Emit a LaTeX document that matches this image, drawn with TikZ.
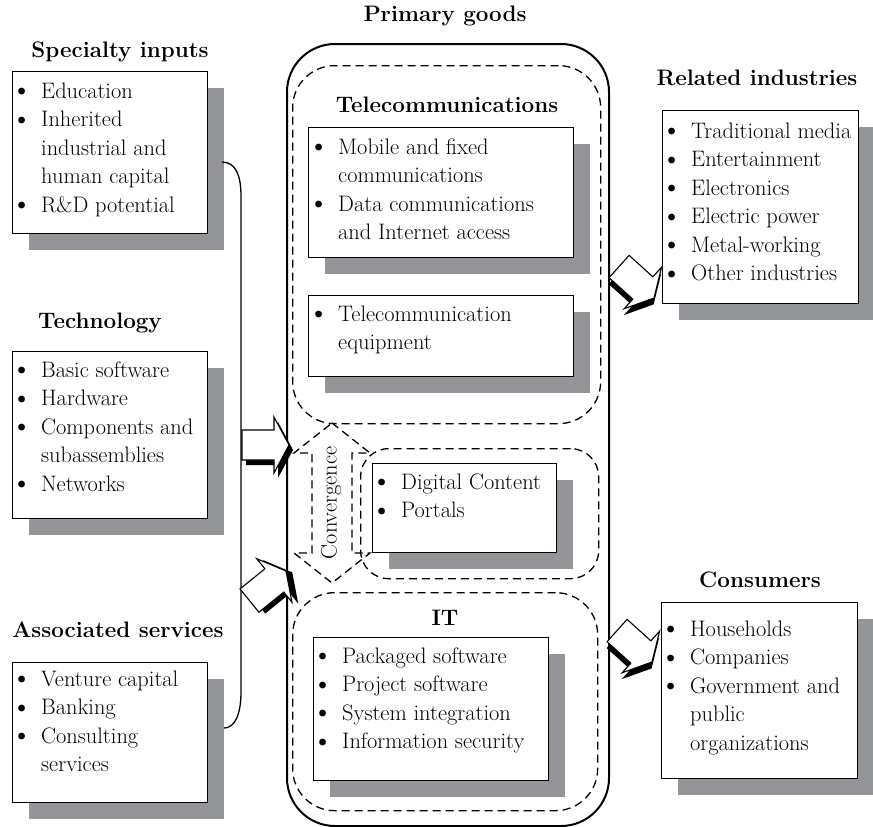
\documentclass[tikz,border=0pt]{standalone}
\usetikzlibrary{shadows}
\definecolor{shade}{RGB}{148,149,153}
\newcommand\bul{\makebox[9pt][c]{\raisebox{-1.9pt}{\fontsize{30}{30}\selectfont\textbullet}}}
\newcommand\blist[1]{\begin{tabular}[t]{@{}l@{\hspace{15pt}}l@{}}#1\end{tabular}}
\tikzset{
  box/.style={draw=black, fill=white, line width=1.3pt, inner sep=0pt, anchor=north west,
    drop shadow={shadow xshift=16pt, shadow yshift=-16pt, fill=shade, opacity=1}},
  region/.style={draw=black, dash pattern=on 8pt off 5pt, line width=1.3pt, inner sep=0pt, anchor=north west},
  head/.style={font=\bfseries, inner sep=0pt},
  list/.style={inner sep=0pt, anchor=base west},
  conv/.style={draw=black, dash pattern=on 8pt off 5pt, line width=1.3pt},
  blockarr/.pic={
    % black extrusion behind the arrow
    \fill[black] (-43,-10) -- (-11,-10) -- (-11,-23) -- (4,5) -- (-11,33) -- (-11,20) -- (-43,20) -- cycle;
    \filldraw[fill=white, draw=black, line width=1.1pt, line join=miter]
      (-47,-15) -- (-15,-15) -- (-15,-28) -- (0,0) -- (-15,28) -- (-15,15) -- (-47,15) -- cycle;
  }
}
\begin{document}
\fontsize{22.4}{28.5}\selectfont
\begin{tikzpicture}[x=1pt, y=-1pt]
\useasboundingbox (0,0) rectangle (873,827);

% ---------- left column ----------
\node[head] (spech) at (120,52) {Specialty inputs};
\node[box, minimum width=195pt, minimum height=162pt] (spec) at (12,71) {};
\node[list] (specl) at (17,98) {\blist{\bul & Education\\ \bul & Inherited\\ & industrial and\\ & human capital\\ \bul & R\&D potential}};

\node[head] (techh) at (100,323) {Technology};
\node[box, minimum width=195pt, minimum height=167pt] (tech) at (12,351) {};
\node[list] (techl) at (17,377) {\blist{\bul & Basic software\\ \bul & Hardware\\ \bul & Components and\\ & subassemblies\\ \bul & Networks}};

\node[head] (assh) at (118,630) {Associated services};
\node[box, minimum width=195pt, minimum height=140pt] (ass) at (12,662) {};
\node[list] (assl) at (17,686) {\blist{\bul & Venture capital\\ \bul & Banking\\ \bul & Consulting\\ & services}};

% bracket joining the input groups
\coordinate (bt) at (222,162);
\coordinate (bb) at (224,728);
\draw[line width=1.3pt] (bt) .. controls (236,162) and (241,176) .. (241,196) -- (241,692) .. controls (241,714) and (235,728) .. (bb);

% ---------- primary goods ----------
\node[head] (primh) at (445,16) {Primary goods};
\node[draw=black, line width=2pt, rounded corners=48pt, minimum width=322pt, minimum height=782pt, anchor=north west, inner sep=0pt] (prim) at (286,43) {};

\node[region, rounded corners=42pt, minimum width=308pt, minimum height=358pt] (telreg) at (292,65) {};
\node[head] (telh) at (447,105) {Telecommunications};
\node[box, minimum width=265pt, minimum height=130pt] (tel1) at (308,127) {};
\node[list] (tel1l) at (314,154) {\blist{\bul & Mobile and fixed\\ & communications\\ \bul & Data communications\\ & and Internet access}};
\node[box, minimum width=265pt, minimum height=81pt] (tel2) at (308,295) {};
\node[list] (tel2l) at (314,321) {\blist{\bul & Telecommunication\\ & equipment}};

\node[region, rounded corners=28pt, minimum width=238pt, minimum height=130pt] (digreg) at (360,448) {};
\node[box, minimum width=184pt, minimum height=89pt] (dig) at (372,463) {};
\node[list] (digl) at (377,489) {\blist{\bul & Digital Content\\ \bul & Portals}};

\node[region, rounded corners=42pt, minimum width=305pt, minimum height=218pt] (itreg) at (292,592) {};
\node[head] (ith) at (445,618) {IT};
\node[box, minimum width=235pt, minimum height=143pt] (it) at (313,637) {};
\node[list] (itl) at (318,663) {\blist{\bul & Packaged software\\ \bul & Project software\\ \bul & System integration\\ \bul & Information security}};

% convergence double arrow
\draw[conv] (332,423) -- (370,453) -- (352,453) -- (352,553) -- (370,553) -- (332,583)
  -- (294,553) -- (312,553) -- (312,453) -- (294,453) -- cycle;
\node[rotate=90, inner sep=0pt] (convt) at (331,503) {Convergence};

% ---------- right column ----------
\node[head] (relh) at (757,78) {Related industries};
\node[box, minimum width=196pt, minimum height=193pt] (rel) at (662,110) {};
\node[list] (rell) at (667,138) {\blist{\bul & Traditional media\\ \bul & Entertainment\\ \bul & Electronics\\ \bul & Electric power\\ \bul & Metal-working\\ \bul & Other industries}};

\node[head] (conh) at (760,580) {Consumers};
\node[box, minimum width=196pt, minimum height=176pt] (con) at (661,602) {};
\node[list] (conl) at (666,636) {\blist{\bul & Households\\ \bul & Companies\\ \bul & Government and\\ & public\\ & organizations}};

% ---------- block arrows ----------
\pic[rotate=0] (arrA) at (289,445) {blockarr};
\pic[rotate=39] (arrB) at (286,571) {blockarr};
\pic[rotate=-42] (arrC) at (654,298) {blockarr};
\pic[rotate=-42] (arrD) at (652,662) {blockarr};
\end{tikzpicture}
\end{document}
